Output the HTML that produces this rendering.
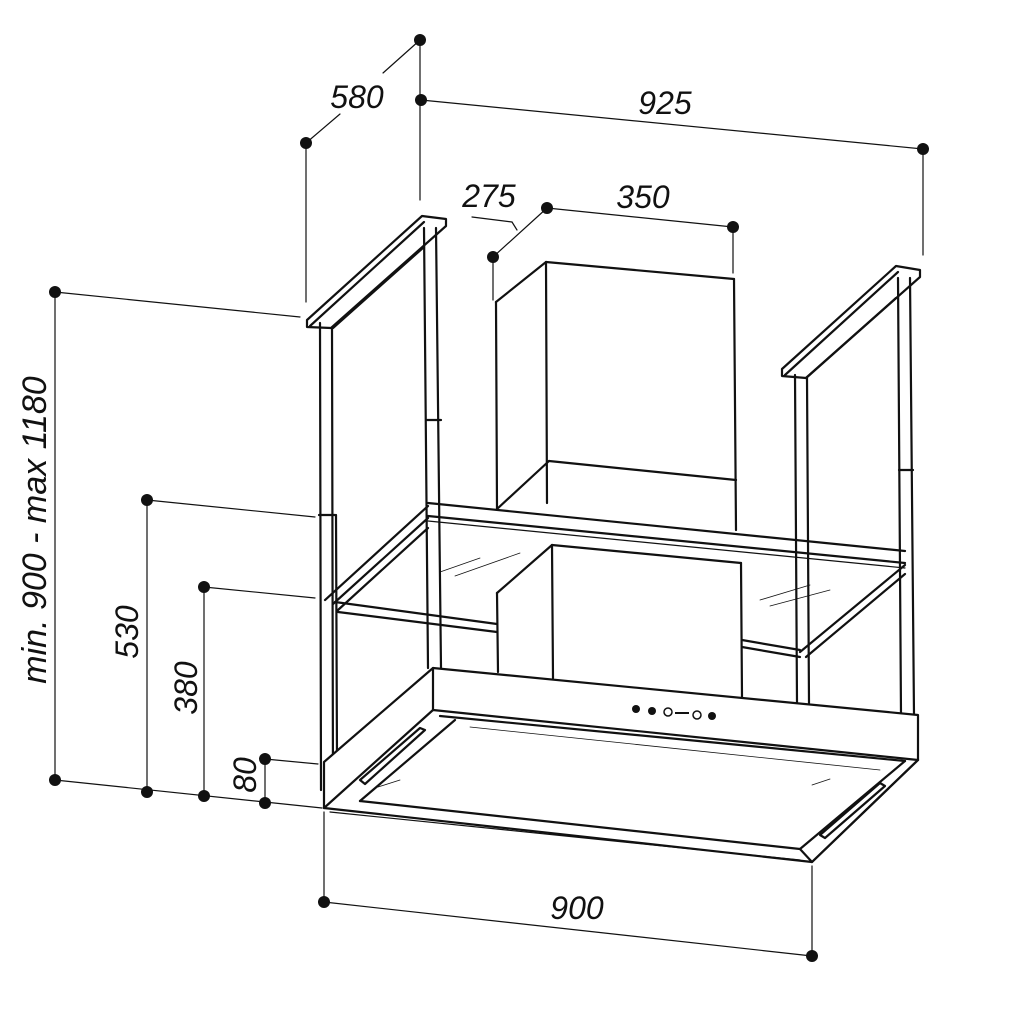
<!DOCTYPE html>
<html><head><meta charset="utf-8"><style>
html,body{margin:0;padding:0;background:#fff;}
svg{display:block}
text{font-family:"Liberation Sans",sans-serif;font-style:italic;font-size:32px;fill:#111}
</style></head><body>
<svg width="1024" height="1024" viewBox="0 0 1024 1024" xmlns="http://www.w3.org/2000/svg">
<g stroke="#111" fill="none" stroke-linecap="round" stroke-linejoin="round">
<g stroke-width="1.2">
<line x1="420" y1="40" x2="383" y2="73"/><line x1="340" y1="114" x2="306" y2="143"/>
<line x1="420" y1="40" x2="420" y2="200"/>
<line x1="306" y1="143" x2="306" y2="302"/>
<line x1="421" y1="100" x2="923" y2="149"/>
<line x1="923" y1="149" x2="923" y2="255"/>
<line x1="547" y1="208" x2="733" y2="227"/>
<line x1="733" y1="227" x2="733" y2="273"/>
<line x1="547" y1="208" x2="493" y2="257"/>
<line x1="493" y1="257" x2="493" y2="300"/>
<line x1="472" y1="217" x2="512" y2="222"/><line x1="512" y1="222" x2="517" y2="230"/>
<line x1="55" y1="292" x2="55" y2="780"/>
<line x1="55" y1="292" x2="300" y2="317"/>
<line x1="55" y1="780" x2="322" y2="808"/>
<line x1="147" y1="500" x2="147" y2="792"/>
<line x1="147" y1="500" x2="315" y2="517"/>
<line x1="204" y1="587" x2="204" y2="796"/>
<line x1="204" y1="587" x2="315" y2="598"/>
<line x1="265" y1="759" x2="265" y2="803"/>
<line x1="265" y1="759" x2="318" y2="764"/>
<line x1="324" y1="812" x2="324" y2="902"/>
<line x1="812" y1="866" x2="812" y2="956"/>
<line x1="324" y1="902" x2="812" y2="956"/>
</g>
<g fill="#111" stroke="none">
<circle cx="420" cy="40" r="6"/><circle cx="306" cy="143" r="6"/><circle cx="421" cy="100" r="6"/><circle cx="923" cy="149" r="6"/>
<circle cx="547" cy="208" r="6"/><circle cx="733" cy="227" r="6"/><circle cx="493" cy="257" r="6"/>
<circle cx="55" cy="292" r="6"/><circle cx="55" cy="780" r="6"/><circle cx="147" cy="500" r="6"/><circle cx="147" cy="792" r="6"/>
<circle cx="204" cy="587" r="6"/><circle cx="204" cy="796" r="6"/><circle cx="265" cy="759" r="6"/><circle cx="265" cy="803" r="6"/>
<circle cx="324" cy="902" r="6"/><circle cx="812" cy="956" r="6"/>
</g>

<g stroke-width="2.2">
<polygon points="307,320 422,216 446,219 446,226 331,328 307,327" fill="#fff"/>
<line x1="310" y1="326" x2="424" y2="222"/>
<line x1="333" y1="328" x2="424" y2="247"/>
<line x1="320" y1="323" x2="321" y2="790"/><line x1="332" y1="328" x2="333" y2="790"/>
<line x1="319" y1="515" x2="335" y2="515"/><line x1="336" y1="515" x2="337" y2="760"/>
<line x1="424" y1="228" x2="428" y2="668"/><line x1="436" y1="228" x2="441" y2="668"/>
<line x1="427" y1="420" x2="441" y2="420"/>
<polygon points="782,369 896,266 920,270 920,277 806,378 782,376" fill="#fff"/>
<line x1="785" y1="375" x2="898" y2="272"/>
<line x1="806" y1="378" x2="896" y2="298"/>
<line x1="795" y1="375" x2="797" y2="703"/><line x1="807" y1="378" x2="809" y2="703"/>
<line x1="898" y1="278" x2="901" y2="715"/><line x1="910" y1="278" x2="914" y2="715"/>
<line x1="899" y1="470" x2="913" y2="470"/>
<line x1="546" y1="262" x2="734" y2="279"/>
<line x1="546" y1="262" x2="547" y2="503"/>
<line x1="734" y1="279" x2="736" y2="530"/>
<line x1="496" y1="302" x2="546" y2="262"/>
<line x1="496" y1="302" x2="497" y2="509"/>
<line x1="497" y1="509" x2="549" y2="461"/>
<line x1="549" y1="461" x2="736" y2="480"/>
<line x1="552" y1="545" x2="741" y2="563"/>
<line x1="552" y1="545" x2="553" y2="678"/>
<line x1="741" y1="563" x2="742" y2="697"/>
<line x1="497" y1="593" x2="552" y2="545"/>
<line x1="497" y1="593" x2="498" y2="672"/>
<line x1="428" y1="503" x2="905" y2="551"/>
<line x1="428" y1="516" x2="905" y2="563"/>
<line x1="428" y1="521" x2="905" y2="568" stroke-width="1.2"/>
<line x1="325" y1="600" x2="428" y2="506"/>
<line x1="333" y1="604" x2="428" y2="518"/>
<line x1="338" y1="610" x2="428" y2="528"/>
<line x1="335" y1="602" x2="497" y2="624"/>
<line x1="338" y1="612" x2="497" y2="632"/>
<line x1="742" y1="640" x2="800" y2="650"/>
<line x1="742" y1="647" x2="800" y2="657"/>
<line x1="905" y1="565" x2="800" y2="652"/>
<line x1="905" y1="574" x2="806" y2="657"/>
<polygon points="433,668 918,715 918,760 812,862 324,808 324,762" fill="#fff"/>
<line x1="433" y1="668" x2="433" y2="710"/>
<line x1="433" y1="710" x2="918" y2="760"/>
<line x1="440" y1="716" x2="905" y2="761"/>
<line x1="433" y1="710" x2="324" y2="808"/>
<line x1="455" y1="720" x2="360" y2="801"/>
<line x1="360" y1="801" x2="800" y2="849"/>
<line x1="330" y1="812" x2="800" y2="860" stroke-width="1.2"/>
<line x1="905" y1="761" x2="800" y2="849"/>
<line x1="918" y1="760" x2="812" y2="862"/>
<line x1="800" y1="849" x2="812" y2="862"/>
<polygon points="360,780 420,728 425,730 365,784"/>
<polygon points="820,835 880,783 885,786 825,838"/>
</g>
<g stroke-width="0.8">
<line x1="440" y1="572" x2="480" y2="558"/><line x1="455" y1="576" x2="520" y2="553"/>
<line x1="760" y1="600" x2="810" y2="585"/><line x1="770" y1="606" x2="830" y2="590"/>
<line x1="378" y1="787" x2="400" y2="780"/><line x1="812" y1="785" x2="830" y2="779"/>
<line x1="470" y1="727" x2="880" y2="770"/>
</g>
<g fill="#111" stroke="none">
<circle cx="636" cy="709" r="4"/><circle cx="652" cy="711" r="4"/><circle cx="712" cy="716" r="4"/>
<circle cx="668" cy="712" r="4" fill="none" stroke="#111" stroke-width="1.5"/>
<circle cx="697" cy="715" r="4" fill="none" stroke="#111" stroke-width="1.5"/>
<rect x="675" y="712" width="14" height="2"/>
</g>
</g>
<text x="357" y="108" text-anchor="middle">580</text>
<text x="665" y="114" text-anchor="middle">925</text>
<text x="643" y="208" text-anchor="middle">350</text>
<text x="489" y="207" text-anchor="middle">275</text>
<text x="577" y="919" text-anchor="middle">900</text>
<text transform="translate(46,530) rotate(-90)" text-anchor="middle" style="font-size:34px">min. 900 - max 1180</text>
<text transform="translate(138,632) rotate(-90)" text-anchor="middle">530</text>
<text transform="translate(197,688) rotate(-90)" text-anchor="middle">380</text>
<text transform="translate(256,775) rotate(-90)" text-anchor="middle">80</text>
</svg>
</body></html>
